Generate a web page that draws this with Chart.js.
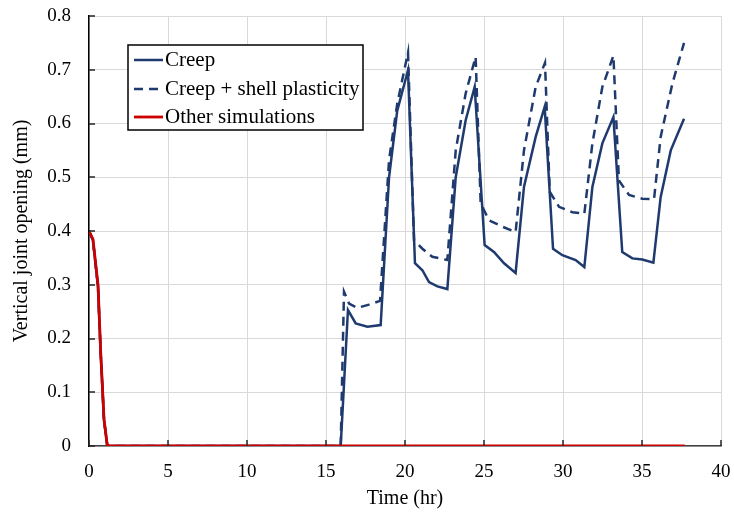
<!DOCTYPE html>
<html>
<head>
<meta charset="utf-8">
<script src="https://cdn.jsdelivr.net/npm/chart.js@4.4.1/dist/chart.umd.min.js"></script>
<style>
  html, body { margin: 0; padding: 0; background: #ffffff; }
  #wrap { width: 734px; height: 518px; }
</style>
</head>
<body>
<div id="wrap"><canvas id="chart" width="734" height="518"></canvas></div>
<script>
// Vertical joint opening (mm) over time (hr)
const seriesLabels = ['Creep', 'Creep + shell plasticity', 'Other simulations'];

const creepTime = [0, 0.25, 0.57, 0.74, 0.95, 1.16, 15.93, 16.39, 16.88, 17.62, 18.46, 18.99, 19.51, 20.19,
  20.63, 21.10, 21.52, 22.05, 22.68, 23.21, 23.84, 24.41, 25.04, 25.63, 26.27, 27.00, 27.53, 28.27, 28.84,
  29.37, 29.96, 30.80, 31.35, 31.86, 32.49, 33.19, 33.75, 34.39, 35.02, 35.72, 36.18, 36.82, 37.66];
const creepOpening = [0.40, 0.383, 0.296, 0.172, 0.048, 0, 0, 0.253, 0.228, 0.222, 0.225, 0.50, 0.624, 0.699,
  0.340, 0.327, 0.305, 0.297, 0.292, 0.50, 0.606, 0.668, 0.374, 0.361, 0.340, 0.322, 0.482, 0.575, 0.631,
  0.367, 0.355, 0.346, 0.333, 0.482, 0.563, 0.612, 0.361, 0.349, 0.347, 0.341, 0.463, 0.550, 0.609];

const plasticTime = [0, 0.25, 0.57, 0.74, 0.95, 1.16, 15.93, 16.14, 16.46, 16.98, 17.72, 18.42, 18.99, 19.51, 20.19,
  20.57, 21.10, 21.73, 22.68, 23.21, 23.84, 24.47, 24.79, 25.32, 26.16, 27.00, 27.53, 28.27, 28.86,
  29.16, 29.75, 30.59, 31.35, 31.86, 32.49, 33.19, 33.54, 34.18, 35.02, 35.76, 36.18, 36.92, 37.66];
const plasticOpening = [0.40, 0.383, 0.296, 0.172, 0.048, 0, 0, 0.287, 0.265, 0.257, 0.263, 0.270, 0.532, 0.637, 0.732,
  0.383, 0.367, 0.352, 0.346, 0.550, 0.656, 0.724, 0.451, 0.420, 0.408, 0.398, 0.550, 0.668, 0.713,
  0.473, 0.445, 0.435, 0.432, 0.563, 0.668, 0.726, 0.494, 0.467, 0.460, 0.459, 0.575, 0.674, 0.750];

const otherTime = [0, 0.25, 0.57, 0.74, 0.95, 1.16, 37.7];
const otherOpening = [0.40, 0.385, 0.30, 0.175, 0.05, 0, 0];

const xTickValues = [0, 5, 10, 15, 20, 25, 30, 35, 40];
const yTickLabels = ['0', '0.1', '0.2', '0.3', '0.4', '0.5', '0.6', '0.7', '0.8'];

const toPoints = (xs, ys) => xs.map((x, i) => ({ x: x, y: ys[i] }));

const NAVY = '#1f3a6e';
const RED = '#cc0000';
const FONT = '"Liberation Serif", "Times New Roman", serif';

// Small tick marks pointing into the plot area
const innerTicks = {
  id: 'innerTicks',
  afterDatasetsDraw(chart) {
    const { ctx, chartArea, scales } = chart;
    ctx.save();
    ctx.strokeStyle = '#262626';
    ctx.lineWidth = 1.5;
    ctx.beginPath();
    xTickValues.forEach(v => {
      const px = Math.round(scales.x.getPixelForValue(v));
      ctx.moveTo(px, chartArea.bottom);
      ctx.lineTo(px, chartArea.bottom - 6);
    });
    yTickLabels.forEach((t, i) => {
      const py = Math.round(scales.y.getPixelForValue(i / 10));
      ctx.moveTo(chartArea.left, py);
      ctx.lineTo(chartArea.left + 6, py);
    });
    ctx.stroke();
    ctx.restore();
  }
};

// Boxed legend placed inside the plot area
const boxLegend = {
  id: 'boxLegend',
  afterDraw(chart) {
    const { ctx } = chart;
    const x0 = 128, y0 = 45, w = 235, h = 85;
    const rows = [60, 89, 117];
    ctx.save();
    ctx.fillStyle = '#ffffff';
    ctx.fillRect(x0, y0, w, h);
    ctx.strokeStyle = '#000000';
    ctx.lineWidth = 1.5;
    ctx.strokeRect(x0, y0, w, h);
    ctx.font = '21px ' + FONT;
    ctx.textBaseline = 'middle';
    chart.data.datasets.forEach((ds, i) => {
      const y = rows[i];
      ctx.strokeStyle = ds.borderColor;
      ctx.lineWidth = ds.borderWidth;
      ctx.setLineDash(ds.borderDash || []);
      ctx.beginPath();
      ctx.moveTo(x0 + 6, y);
      ctx.lineTo(x0 + 35, y);
      ctx.stroke();
      ctx.setLineDash([]);
      ctx.fillStyle = '#000000';
      ctx.fillText(ds.label, x0 + 37, y);
    });
    ctx.restore();
  }
};

new Chart(document.getElementById('chart'), {
  type: 'line',
  data: {
    datasets: [
      {
        label: seriesLabels[0],
        data: toPoints(creepTime, creepOpening),
        borderColor: NAVY, borderWidth: 2.5, pointRadius: 0, tension: 0, fill: false, order: 3
      },
      {
        label: seriesLabels[1],
        data: toPoints(plasticTime, plasticOpening),
        borderColor: NAVY, borderWidth: 2.5, borderDash: [9, 6], pointRadius: 0, tension: 0, fill: false, order: 2
      },
      {
        label: seriesLabels[2],
        data: toPoints(otherTime, otherOpening),
        borderColor: RED, borderWidth: 2.8, pointRadius: 0, tension: 0, fill: false, order: 1
      }
    ]
  },
  options: {
    responsive: false,
    animation: false,
    layout: { padding: { left: 0, right: 13, top: 16, bottom: 0 } },
    plugins: { legend: { display: false }, tooltip: { enabled: false } },
    scales: {
      x: {
        type: 'linear', min: 0, max: 40,
        afterBuildTicks: s => { s.ticks = xTickValues.map(v => ({ value: v })); },
        afterFit: s => { s.height = 72; s.paddingLeft = 0; s.paddingRight = 0; },
        ticks: { color: '#000', font: { family: FONT, size: 19 }, padding: 15, maxRotation: 0 },
        grid: { color: '#d9d9d9', lineWidth: 1, drawTicks: false, tickLength: 0 },
        border: { display: true, color: '#404040', width: 1.5 },
        title: { display: true, text: 'Time (hr)', color: '#000', font: { family: FONT, size: 20 }, padding: { top: 2, bottom: 7 } }
      },
      y: {
        type: 'linear', min: 0, max: 0.8,
        afterBuildTicks: s => { s.ticks = yTickLabels.map((t, i) => ({ value: i / 10 })); },
        afterFit: s => { s.width = 89; s.paddingTop = 0; s.paddingBottom = 0; },
        ticks: {
          color: '#000', font: { family: FONT, size: 19 }, padding: 18,
          callback: (v, i) => yTickLabels[i]
        },
        grid: { color: '#d9d9d9', lineWidth: 1, drawTicks: false, tickLength: 0 },
        border: { display: true, color: '#000000', width: 1.5 },
        title: { display: true, text: 'Vertical joint opening (mm)', color: '#000', font: { family: FONT, size: 20 }, padding: { top: 10, bottom: 4 } }
      }
    }
  },
  plugins: [innerTicks, boxLegend]
});
</script>
</body>
</html>
